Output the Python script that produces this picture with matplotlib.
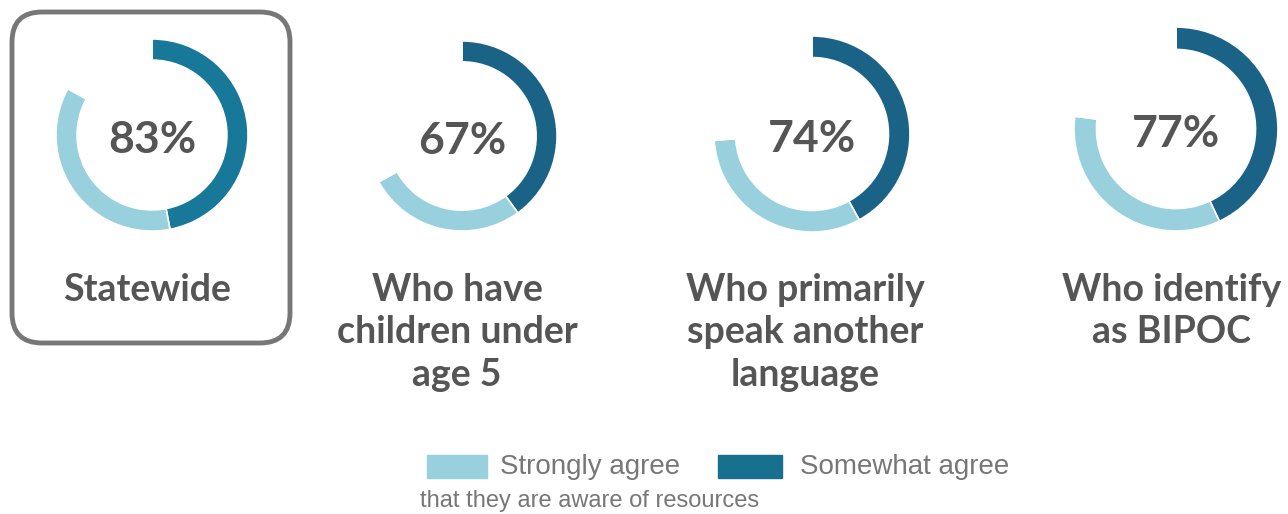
import numpy as np
import matplotlib
matplotlib.use("Agg")
import matplotlib.pyplot as plt
from matplotlib.patches import FancyBboxPatch, Rectangle

# data
groups = ["Statewide", "Who have\nchildren under\nage 5",
          "Who primarily\nspeak another\nlanguage", "Who identify\nas BIPOC"]
somewhat = [47, 40, 42, 43]
strongly = [36, 27, 32, 34]
totals = ["83%", "67%", "74%", "77%"]

dark_cols = ["#17789a", "#1b6386", "#1b6386", "#1b6386"]
light = "#99d0dd"
grey = "#555555"

W, H = 1288, 514
fig = plt.figure(figsize=(W / 100, H / 100), dpi=100)

# background axes in pixel units for the box, labels and legend
bg = fig.add_axes([0, 0, 1, 1])
bg.set_xlim(0, W)
bg.set_ylim(H, 0)
bg.axis("off")

# donut centres / radii (px)
centres = [(152, 135), (462, 136), (812, 134), (1176, 129)]
radii = [97, 96, 99, 103]
label_x = [147, 457, 805, 1172]

box = FancyBboxPatch((12, 12), 278, 331, boxstyle="round,pad=0,rounding_size=30",
                     fill=False, edgecolor="#777777", linewidth=3.5)
bg.add_patch(box)

for i in range(len(groups)):
    cx, cy = centres[i]
    r = radii[i]
    ax = fig.add_axes([(cx - r) / W, 1 - (cy + r) / H, 2 * r / W, 2 * r / H])
    ax.pie([somewhat[i], strongly[i], 100 - somewhat[i] - strongly[i]],
           colors=[dark_cols[i], light, "none"], startangle=90, counterclock=False,
           wedgeprops=dict(width=0.22, edgecolor="white", linewidth=1.2))
    ax.set_xlim(-1.01, 1.01)
    ax.set_ylim(-1.01, 1.01)
    ax.set_aspect("equal")
    ax.axis("off")
    ax.text(0, -0.05, totals[i], ha="center", va="center", fontsize=32,
            color=grey, family="Lato", fontweight="bold")

    bg.text(label_x[i], 273, groups[i], ha="center", va="top", fontsize=27,
            color=grey, family="Lato", fontweight="bold", linespacing=1.3)

# legend
bg.add_patch(Rectangle((427, 455), 60, 23, color=light))
bg.text(500, 467, "Strongly agree", ha="left", va="center", fontsize=20,
        color="#777777", family="Liberation Sans")
bg.add_patch(Rectangle((718, 455), 64, 23, color="#17708e"))
bg.text(800, 467, "Somewhat agree", ha="left", va="center", fontsize=20,
        color="#777777", family="Liberation Sans")
bg.text(420, 501, "that they are aware of resources", ha="left", va="center",
        fontsize=17, color="#777777", family="Liberation Sans")

fig.savefig("out.png", dpi=100)
